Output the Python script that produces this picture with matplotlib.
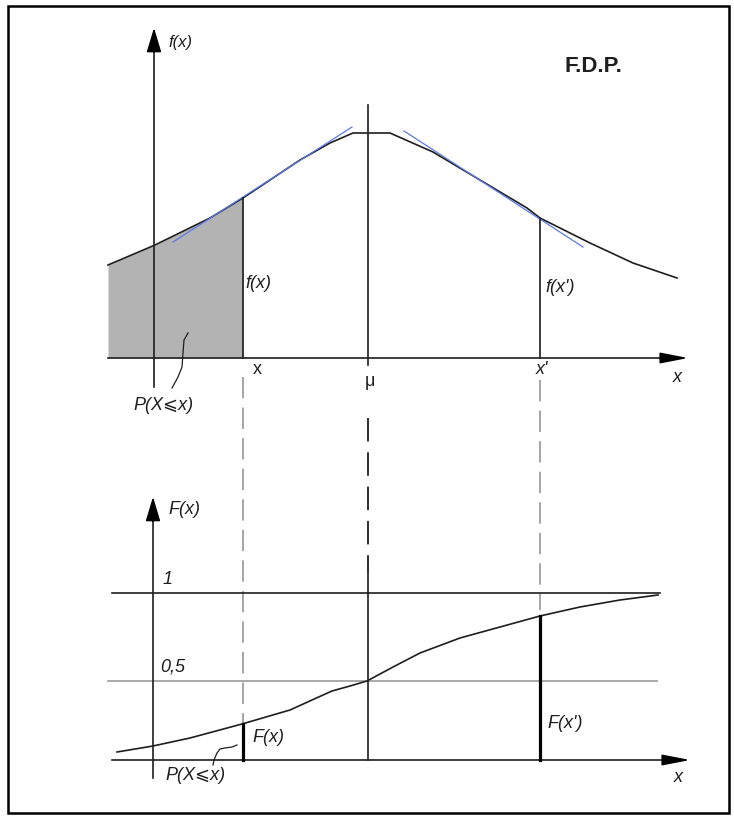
import matplotlib.pyplot as plt
from matplotlib.patches import Rectangle

plt.rcParams['font.family'] = ['Liberation Sans', 'DejaVu Sans']

# diagram drawn in a pixel-like frame (x right, y down)
# density curve f(x)
pdf_x = [108, 155, 210, 243, 270, 300, 330, 353, 390, 433, 480, 527, 540, 590, 633, 677]
pdf_y = [265, 245, 218, 198, 180, 160, 143, 133, 133, 152, 180, 208, 218, 243, 263, 278]

# cumulative curve F(x)
cdf_x = [117, 153, 190, 242, 290, 312, 332, 350, 367, 393, 420, 460, 500, 540, 580, 620, 658]
cdf_y = [752, 746, 738, 724, 710, 700, 691, 686, 681, 667, 653, 638, 627, 616, 607, 600, 595]

# key abscissas
x_lo, x_mu, x_hi = 243, 368, 540
top_base, bot_base = 358, 760
one_level, half_level = 593, 681

# tangent segments (blue)
tan_left_x, tan_left_y = [173, 352], [242, 127]
tan_right_x, tan_right_y = [404, 583], [131, 247]

# leader curves to the P(X<=x) labels
lead_top_x = [188, 184, 183, 182, 178, 172]
lead_top_y = [333, 340, 353, 367, 377, 388]
lead_bot_x = [237, 232, 225, 220, 217, 214, 213]
lead_bot_y = [745, 747, 748, 749, 753, 760, 765]

ink = '#1e1e1e'

fig = plt.figure(figsize=(7.34, 8.18), dpi=100)
ax = fig.add_axes([0, 0, 1, 1])
ax.set_xlim(0, 734)
ax.set_ylim(818, 0)
ax.axis('off')

# outer frame
ax.add_patch(Rectangle((8, 6), 721, 807, fill=False, ec='black', lw=1.8))

y_head = '-|>,head_length=1.5,head_width=0.45'
x_head = '-|>,head_length=1.7,head_width=0.33'

# ---------- top panel: F.D.P. ----------
# shaded area P(X<=x)
sx = [v for v in pdf_x if v <= x_lo]
sy = pdf_y[:len(sx)]
ax.fill_between(sx, sy, top_base, color='#b3b3b3', lw=0)
ax.plot(pdf_x, pdf_y, color=ink, lw=1.2)
ax.plot(tan_left_x, tan_left_y, color='#5a78e6', lw=0.9)
ax.plot(tan_right_x, tan_right_y, color='#5a78e6', lw=0.9)

# axes
ax.plot([108, 672], [top_base, top_base], color=ink, lw=1.2)
ax.annotate('', xy=(691, top_base), xytext=(660, top_base),
            arrowprops=dict(arrowstyle=x_head, color='black', lw=1.2, mutation_scale=10))
ax.plot([154, 154], [387, 45], color=ink, lw=1.2)
ax.annotate('', xy=(154, 25), xytext=(154, 55),
            arrowprops=dict(arrowstyle=y_head, color='black', lw=1.2, mutation_scale=10))

# verticals
ax.plot([x_lo, x_lo], [pdf_y[3], top_base], color=ink, lw=1.2)
ax.plot([x_hi, x_hi], [pdf_y[12], top_base], color=ink, lw=1.2)
ax.plot([x_mu, x_mu], [105, 365], color=ink, lw=1.2)

ax.plot(lead_top_x, lead_top_y, color=ink, lw=0.9)

ax.text(168, 42, 'f(x)', style='italic', fontsize=12, color=ink, va='center')
ax.text(564, 67, 'F.D.P.', fontweight='bold', fontsize=16, color=ink, va='center')
ax.text(245, 284, 'f(x)', style='italic', fontsize=13, color=ink, va='center')
ax.text(545, 287, "f(x')", style='italic', fontsize=13, color=ink, va='center')
ax.text(257, 369, 'x', fontsize=13, color=ink, ha='center', va='center')
ax.text(370, 381, 'μ', fontsize=13, color=ink, ha='center', va='center')
ax.text(542, 370, "x'", style='italic', fontsize=13, color=ink, ha='center', va='center')
ax.text(677, 377, 'x', style='italic', fontsize=13, color=ink, ha='center', va='center')
ax.text(163, 405, 'P(X⩽x)', style='italic', fontsize=13, color=ink, ha='center', va='center')

# ---------- connecting dashed lines ----------
ax.plot([x_lo, x_lo], [377, cdf_y[3]], color='#8c8c8c', lw=1.1, dashes=(14, 6))
ax.plot([x_hi, x_hi], [380, 610], color='#8c8c8c', lw=1.1, dashes=(14, 6))
ax.plot([x_mu, x_mu], [418, 573], color=ink, lw=1.3, dashes=(13, 6))

# ---------- bottom panel: F(x) ----------
ax.plot([112, 660], [one_level, one_level], color=ink, lw=1.2)
ax.plot([108, 657], [half_level, half_level], color='#999999', lw=1.2)
ax.plot(cdf_x, cdf_y, color=ink, lw=1.2)

ax.plot([112, 672], [bot_base, bot_base], color=ink, lw=1.2)
ax.annotate('', xy=(693, bot_base), xytext=(662, bot_base),
            arrowprops=dict(arrowstyle=x_head, color='black', lw=1.2, mutation_scale=10))
ax.plot([153, 153], [778, 515], color=ink, lw=1.2)
ax.annotate('', xy=(153, 494), xytext=(153, 524),
            arrowprops=dict(arrowstyle=y_head, color='black', lw=1.2, mutation_scale=10))

ax.plot([x_mu, x_mu], [573, bot_base], color=ink, lw=1.2)
ax.plot([x_lo, x_lo], [cdf_y[3], bot_base], color='black', lw=2.3)
ax.plot([x_hi, x_hi], [cdf_y[13], bot_base], color='black', lw=2.3)

ax.plot(lead_bot_x, lead_bot_y, color=ink, lw=0.9)

ax.text(168, 510, 'F(x)', style='italic', fontsize=13, color=ink, va='center')
ax.text(168, 580, '1', style='italic', fontsize=13, color=ink, ha='center', va='center')
ax.text(160, 667, '0,5', style='italic', fontsize=13, color=ink, va='center')
ax.text(252, 738, 'F(x)', style='italic', fontsize=13, color=ink, va='center')
ax.text(547, 723, "F(x')", style='italic', fontsize=13, color=ink, va='center')
ax.text(196, 776, 'P(X⩽x)', style='italic', fontsize=13, color=ink, ha='center', va='center')
ax.text(678, 778, 'x', style='italic', fontsize=13, color=ink, ha='center', va='center')

fig.savefig('out.png', dpi=100)
